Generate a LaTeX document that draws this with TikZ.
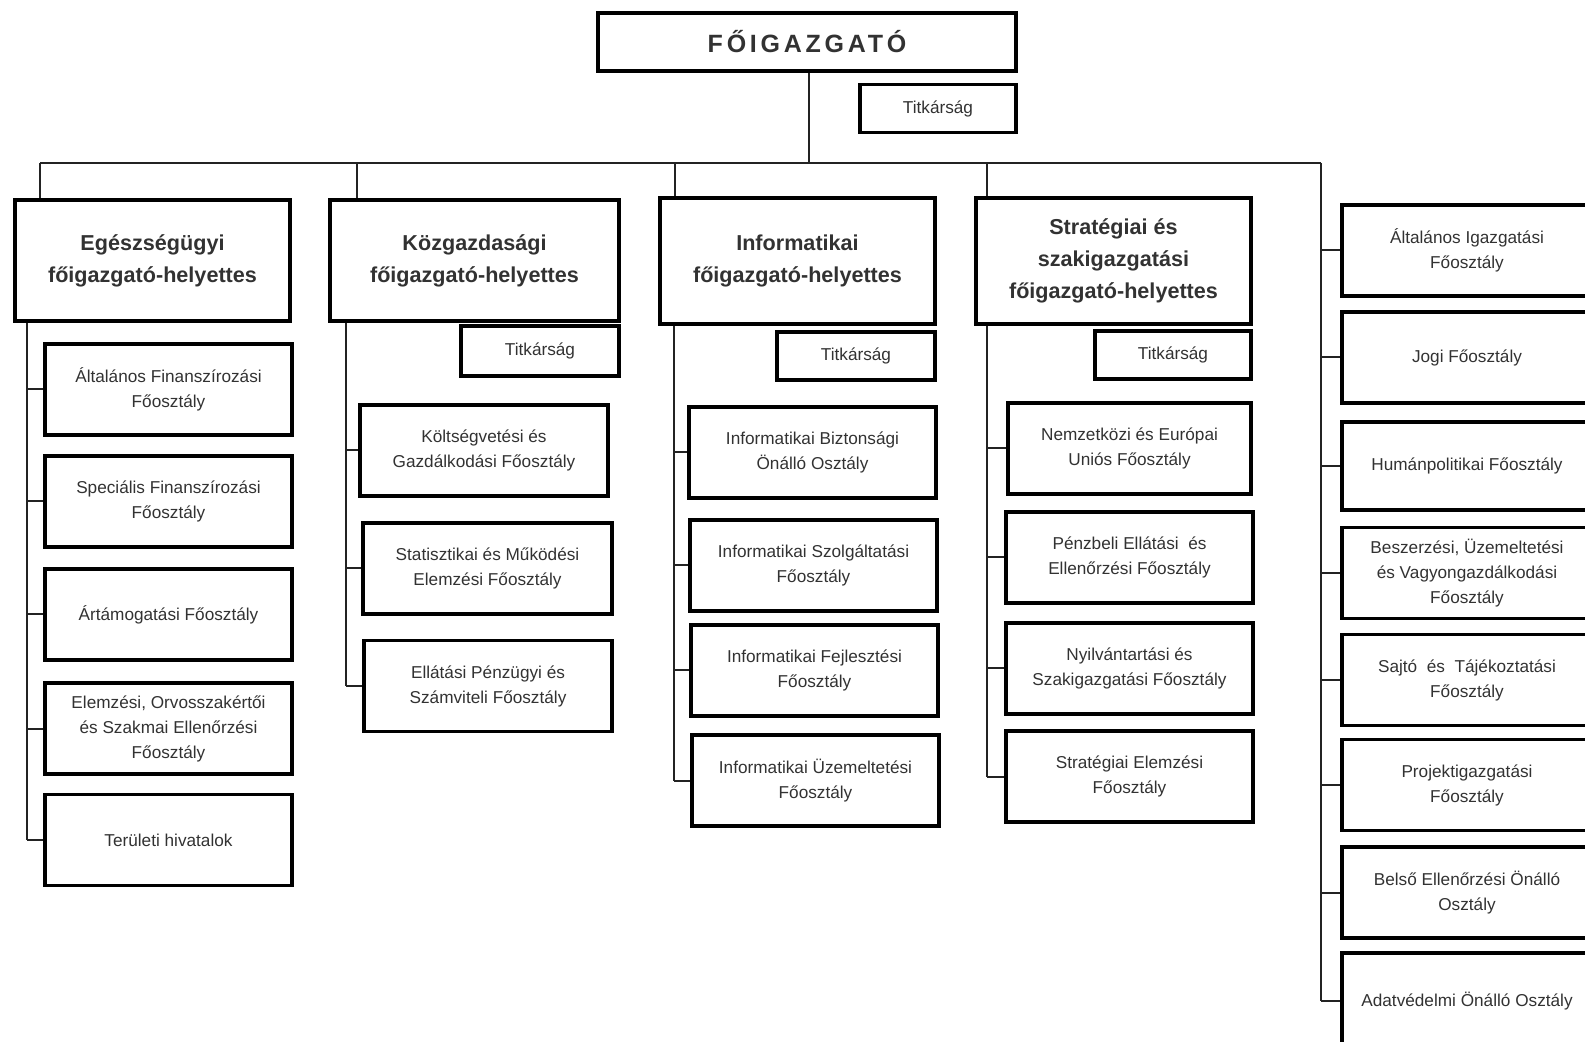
\documentclass[tikz,border=0pt]{standalone}
\usepackage{fontspec}
\setmainfont{Liberation Sans}
\usetikzlibrary{positioning}
\definecolor{orgline}{RGB}{35,35,35}
\definecolor{orgtext}{RGB}{50,50,50}

\begin{document}
\begin{tikzpicture}[
    x=0.5pt, y=-0.5pt,
    chief/.style={
        rectangle,
        draw=black,
        line width=2.4pt,
        minimum width=209pt,
        minimum height=29pt,
        inner sep=0pt,
        font=\fontsize{12.5}{15}\selectfont\bfseries,
        text=orgtext
    },
    deputy/.style={
        rectangle,
        draw=black,
        line width=2.2pt,
        minimum width=137.5pt,
        minimum height=60.5pt,
        inner sep=0pt,
        align=center,
        font=\fontsize{10.8}{16}\selectfont\bfseries,
        text=orgtext
    },
    office/.style={
        rectangle,
        draw=black,
        line width=1.7pt,
        minimum width=123.5pt,
        minimum height=45.5pt,
        inner sep=0pt,
        align=center,
        font=\fontsize{8.6}{12.5}\selectfont,
        text=orgtext
    },
    secretariat/.style={
        office,
        minimum width=78pt,
        minimum height=24pt
    },
    conn/.style={
        draw=orgline,
        line width=1pt
    }
]

% Page frame
\useasboundingbox (0,0) rectangle (1585,1042);

% Director general
\node[chief] (fo) at (807,42) {\addfontfeature{LetterSpace=15}FŐIGAZGATÓ};
\node[secretariat] (fotitk) at (938,108.5) {Titkárság};

% Deputies
\node[deputy] (egh) at (152.5,260.5) {Egészségügyi\\főigazgató-helyettes};
\node[deputy, minimum width=144.5pt] (kgh) at (474.5,260.5) {Közgazdasági\\főigazgató-helyettes};
\node[deputy, minimum height=63pt] (ifh) at (797.5,261) {Informatikai\\főigazgató-helyettes};
\node[deputy, minimum height=63pt] (szh) at (1113.5,261) {Stratégiai és\\szakigazgatási\\főigazgató-helyettes};

% Secretariats of the deputies
\node[secretariat, minimum width=79pt, minimum height=25pt] (kgtitk) at (540,351) {Titkárság};
\node[secretariat, minimum width=79pt] (iftitk) at (856,356) {Titkárság};
\node[secretariat] (sztitk) at (1173,355) {Titkárság};

% Health column
\node[office] (altfin) at (168.5,389.5) {Általános Finanszírozási\\Főosztály};
\node[office] (specfin) at (168.5,501.5) {Speciális Finanszírozási\\Főosztály};
\node[office] (artam) at (168.5,614.5) {Ártámogatási Főosztály};
\node[office] (elemz) at (168.5,728.5) {Elemzési, Orvosszakértői\\és Szakmai Ellenőrzési\\Főosztály};
\node[office] (terul) at (168.5,840) {Területi hivatalok};

% Economic column
\node[office, minimum width=124pt] (koltseg) at (484,450.5) {Költségvetési és\\Gazdálkodási Főosztály};
\node[office, minimum width=124.5pt] (stat) at (487.5,568.5) {Statisztikai és Működési\\Elemzési Főosztály};
\node[office, minimum width=124pt] (ellpenz) at (488,686) {Ellátási Pénzügyi és\\Számviteli Főosztály};

% IT column
\node[office] (ifbizt) at (812.5,452.5) {Informatikai Biztonsági\\Önálló Osztály};
\node[office] (ifszolg) at (813.5,565.5) {Informatikai Szolgáltatási\\Főosztály};
\node[office] (iffejl) at (814.5,670.5) {Informatikai Fejlesztési\\Főosztály};
\node[office] (ifuzem) at (815.5,780.5) {Informatikai Üzemeltetési\\Főosztály};

% Strategy column
\node[office, minimum width=121.5pt] (nemzetk) at (1129.5,448.5) {Nemzetközi és Európai\\Uniós Főosztály};
\node[office] (penzb) at (1129.5,557.5) {Pénzbeli Ellátási \ és\\Ellenőrzési Főosztály};
\node[office] (nyilv) at (1129.5,668.5) {Nyilvántartási és\\Szakigazgatási Főosztály};
\node[office] (stratel) at (1129.5,776.5) {Stratégiai Elemzési\\Főosztály};

% Units under the director general
\node[office, minimum width=125pt] (altig) at (1467,250.5) {Általános Igazgatási\\Főosztály};
\node[office, minimum width=125pt] (jogi) at (1467,357.5) {Jogi Főosztály};
\node[office, minimum width=125pt, minimum height=44pt] (human) at (1467,466) {Humánpolitikai Főosztály};
\node[office, minimum width=125pt] (beszerz) at (1467,573) {Beszerzési, Üzemeltetési\\és Vagyongazdálkodási\\Főosztály};
\node[office, minimum width=125pt] (sajto) at (1467,680) {Sajtó \ és \ Tájékoztatási\\Főosztály};
\node[office, minimum width=125pt] (projekt) at (1467,785) {Projektigazgatási\\Főosztály};
\node[office, minimum width=125pt] (belso) at (1467,892.5) {Belső Ellenőrzési Önálló\\Osztály};
\node[office, minimum width=125pt, minimum height=48pt] (adat) at (1467,1001) {Adatvédelmi Önálló Osztály};

% Bus line and drops
\coordinate (bus west) at (40,163);
\coordinate (bus east) at (1321,163);
\coordinate (drop kg) at (357,163);
\coordinate (drop if) at (675,163);
\coordinate (drop sz) at (987,163);
\draw[conn] (fo.south -| 809,0) -- (bus west -| 809,0);
\draw[conn] (bus west) -- (bus east);
\draw[conn] (bus west) -- (bus west |- egh.north);
\draw[conn] (drop kg) -- (drop kg |- kgh.north);
\draw[conn] (drop if) -- (drop if |- ifh.north);
\draw[conn] (drop sz) -- (drop sz |- szh.north);

% Spines of the columns
\coordinate (spine eg) at (27,0);
\coordinate (spine kg) at (346,0);
\coordinate (spine if) at (674,0);
\coordinate (spine sz) at (987,0);
\draw[conn] (spine eg |- egh.south) -- (spine eg |- terul.west);
\draw[conn] (spine kg |- kgh.south) -- (spine kg |- ellpenz.west);
\draw[conn] (spine if |- ifh.south) -- (spine if |- ifuzem.west);
\draw[conn] (spine sz |- szh.south) -- (spine sz |- stratel.west);
\draw[conn] (bus east) -- (bus east |- adat.west);

% Ticks
\foreach \u in {altfin, specfin, artam, elemz, terul}
    \draw[conn] (spine eg |- \u.west) -- (\u.west);
\foreach \u in {koltseg, stat, ellpenz}
    \draw[conn] (spine kg |- \u.west) -- (\u.west);
\foreach \u in {ifbizt, ifszolg, iffejl, ifuzem}
    \draw[conn] (spine if |- \u.west) -- (\u.west);
\foreach \u in {nemzetk, penzb, nyilv, stratel}
    \draw[conn] (spine sz |- \u.west) -- (\u.west);
\foreach \u in {altig, jogi, human, beszerz, sajto, projekt, belso, adat}
    \draw[conn] (bus east |- \u.west) -- (\u.west);

\end{tikzpicture}
\end{document}
